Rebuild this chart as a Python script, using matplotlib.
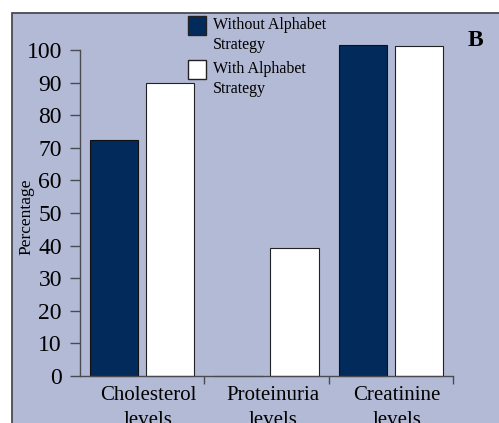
import numpy as np
import matplotlib.pyplot as plt
from matplotlib.patches import Rectangle

categories = ['Cholesterol\nlevels', 'Proteinuria\nlevels', 'Creatinine\nlevels']
series_names = ['Without Alphabet\nStrategy', 'With Alphabet\nStrategy']
without_alpha = [72.5, 0, 101.5]
with_alpha = [90, 39.2, 101.2]
yticks = [0, 10, 20, 30, 40, 50, 60, 70, 80, 90, 100]

navy = '#022a5a'
panel = '#b3bad5'
edge = '#4a4a52'
W, H = 499, 423

plt.rcParams['font.family'] = ['Liberation Serif', 'DejaVu Serif']

fig = plt.figure(figsize=(W/100, H/100), dpi=100)
fig.patch.set_facecolor('white')

# lavender panel behind everything
fig.patches.append(Rectangle((12/W, -0.05), 1.0, (H-13)/H + 0.05, transform=fig.transFigure,
                             facecolor=panel, edgecolor=edge, linewidth=1.3, zorder=-10))

ax = fig.add_axes([80/W, 47/H, (453-80)/W, (376-50)/H])
ax.set_zorder(5)
ax.set_facecolor('none')

x = np.arange(len(categories))
w = 0.39
ax.bar(x - 0.03 - w/2, without_alpha, w, color=navy, edgecolor='#111111', linewidth=0.8,
       clip_on=False)
ax.bar(x + 0.03 + w/2, with_alpha, w, color='white', edgecolor='#222222', linewidth=0.8,
       clip_on=False)

ax.set_xlim(-0.5, 2.5)
ax.set_ylim(0, 100)
ax.set_yticks(yticks)
ax.tick_params(axis='y', labelsize=17, length=7, width=1, color=edge, pad=6)
ax.set_xticks([0.5, 1.5, 2.5])
ax.set_xticklabels([])
ax.tick_params(axis='x', length=6, width=1, color=edge)
ax.set_xticks(x + 0.05, minor=True)
ax.set_xticklabels(categories, minor=True, fontsize=15, linespacing=1.45)
ax.tick_params(axis='x', which='minor', length=0, pad=7)

for s in ['top', 'right']:
    ax.spines[s].set_visible(False)
for s in ['left', 'bottom']:
    ax.spines[s].set_color(edge)
    ax.spines[s].set_linewidth(1)

ax.set_ylabel('Percentage', fontsize=12.5, labelpad=0)
ax.yaxis.set_label_coords(-0.122, 0.49)

# legend drawn by hand: squares top-aligned with first text line
for name, fc, top in zip(series_names, [navy, 'white'], [16, 60]):
    fig.patches.append(Rectangle((188/W, (H - top - 19)/H), 18/W, 19/H, transform=fig.transFigure,
                                 facecolor=fc, edgecolor='#222222', linewidth=1, zorder=10))
    fig.text(213/W, (H - top - 19)/H, name, fontsize=11.5, ha='left', va='center',
             linespacing=1.3, zorder=10)

fig.text(475/W, 1 - 40/H, 'B', fontsize=17, fontweight='bold', ha='center', va='center')

fig.savefig('out.png', dpi=100)
